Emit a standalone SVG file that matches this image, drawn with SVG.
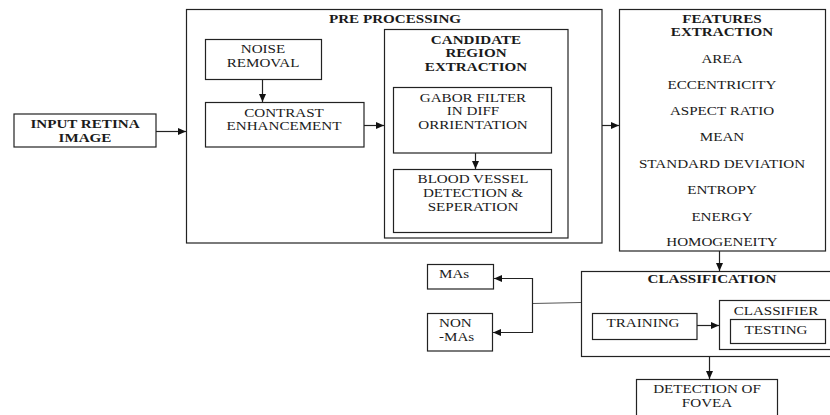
<svg xmlns="http://www.w3.org/2000/svg" width="830" height="415" viewBox="0 0 830 415">
<defs>
<style>
.box{fill:none;stroke:#222;stroke-width:1.2}
text{font-family:"Liberation Serif","DejaVu Serif",serif}
.t{font-size:12px;fill:#1a1a1a;text-anchor:middle}
.b{font-weight:bold}
.l{text-anchor:start}
.c{fill:none;stroke:#222;stroke-width:1.2}
.c2{fill:none;stroke:#555;stroke-width:1.2}
</style>
<marker id="ah" markerUnits="userSpaceOnUse" markerWidth="8" markerHeight="7" refX="8" refY="3.5" orient="auto">
<path d="M0,0 L8,3.5 L0,7 z" fill="#111"/>
</marker>
</defs>
<rect width="830" height="415" fill="#fff"/>

<g id="input">
<rect class="box" x="14" y="114" width="142" height="33"/>
<text class="t b" font-family="Liberation Serif, serif" transform="translate(85,128) scale(1.26,1)"><tspan x="0">INPUT RETINA</tspan><tspan x="0" y="14">IMAGE</tspan></text>
</g>

<g id="preprocessing">
<rect class="box" x="186.5" y="9.5" width="415.5" height="233.5"/>
<text class="t b" font-family="Liberation Serif, serif" transform="translate(395,23) scale(1.26,1)">PRE PROCESSING</text>
</g>

<g id="noise">
<rect class="box" x="205.5" y="39.5" width="116" height="40"/>
<text class="t" font-family="Liberation Serif, serif" transform="translate(263,53) scale(1.26,1)"><tspan x="0">NOISE</tspan><tspan x="0" y="14">REMOVAL</tspan></text>
</g>

<g id="contrast">
<rect class="box" x="205.5" y="102.5" width="158.5" height="44.5"/>
<text class="t" font-family="Liberation Serif, serif" transform="translate(284,117) scale(1.26,1)"><tspan x="0">CONTRAST</tspan><tspan x="0" y="13">ENHANCEMENT</tspan></text>
</g>

<g id="candidate">
<rect class="box" x="384.5" y="29.5" width="183.5" height="208.5"/>
<text class="t b" font-family="Liberation Serif, serif" transform="translate(476,44) scale(1.26,1)"><tspan x="0">CANDIDATE</tspan><tspan x="0" y="13.5">REGION</tspan><tspan x="0" y="27">EXTRACTION</tspan></text>
</g>

<g id="gabor">
<rect class="box" x="393.5" y="87.5" width="158" height="65.5"/>
<text class="t" font-family="Liberation Serif, serif" transform="translate(473,102) scale(1.26,1)"><tspan x="0">GABOR FILTER</tspan><tspan x="0" y="13.5">IN DIFF</tspan><tspan x="0" y="27">ORRIENTATION</tspan></text>
</g>

<g id="bloodvessel">
<rect class="box" x="393.5" y="169.5" width="158" height="63"/>
<text class="t" font-family="Liberation Serif, serif" transform="translate(473,183) scale(1.26,1)"><tspan x="0">BLOOD VESSEL</tspan><tspan x="0" y="14">DETECTION &amp;</tspan><tspan x="0" y="28">SEPERATION</tspan></text>
</g>

<g id="features" font-family="Liberation Serif, serif">
<rect class="box" x="619.5" y="9.5" width="206" height="241.5"/>
<text class="t b" transform="translate(722,23) scale(1.26,1)"><tspan x="0">FEATURES</tspan><tspan x="0" y="13">EXTRACTION</tspan></text>
<text class="t" transform="translate(722,63) scale(1.26,1)">AREA</text>
<text class="t" transform="translate(722,89) scale(1.26,1)">ECCENTRICITY</text>
<text class="t" transform="translate(722,115) scale(1.26,1)">ASPECT RATIO</text>
<text class="t" transform="translate(722,141) scale(1.26,1)">MEAN</text>
<text class="t" transform="translate(722,168) scale(1.26,1)">STANDARD DEVIATION</text>
<text class="t" transform="translate(722,194) scale(1.26,1)">ENTROPY</text>
<text class="t" transform="translate(722,221) scale(1.26,1)">ENERGY</text>
<text class="t" transform="translate(722,246) scale(1.26,1)">HOMOGENEITY</text>
</g>

<g id="classification">
<rect class="box" x="581.5" y="271.5" width="260" height="85"/>
<text class="t b" font-family="Liberation Serif, serif" transform="translate(712,283) scale(1.26,1)">CLASSIFICATION</text>
</g>

<g id="training">
<rect class="box" x="592.5" y="313.5" width="104.5" height="26"/>
<text class="t" font-family="Liberation Serif, serif" transform="translate(643,327) scale(1.26,1)">TRAINING</text>
</g>

<g id="classifier">
<rect class="box" x="719.5" y="300.5" width="120" height="49"/>
<text class="t" font-family="Liberation Serif, serif" transform="translate(776,315) scale(1.26,1)">CLASSIFIER</text>
</g>

<g id="testing">
<rect class="box" x="730.5" y="319.5" width="95" height="24"/>
<text class="t" font-family="Liberation Serif, serif" transform="translate(776,334) scale(1.26,1)">TESTING</text>
</g>

<g id="detection">
<rect class="box" x="636.5" y="379.5" width="141" height="50"/>
<text class="t" font-family="Liberation Serif, serif" transform="translate(707,393) scale(1.26,1)"><tspan x="0">DETECTION OF</tspan><tspan x="0" y="14">FOVEA</tspan></text>
</g>

<g id="mas">
<rect class="box" x="427.5" y="264.5" width="66" height="24.5"/>
<text class="t l" font-family="Liberation Serif, serif" transform="translate(439,278) scale(1.26,1)">MAs</text>
</g>

<g id="nonmas">
<rect class="box" x="427.5" y="313.5" width="65" height="37.5"/>
<text class="t l" font-family="Liberation Serif, serif" transform="translate(439,327) scale(1.26,1)"><tspan x="0">NON</tspan><tspan x="0" y="14">-MAs</tspan></text>
</g>

<g id="connectors">
<line class="c" x1="156" y1="131.5" x2="186" y2="131.5" marker-end="url(#ah)"/>
<line class="c" x1="262.5" y1="80" x2="262.5" y2="102" marker-end="url(#ah)"/>
<line class="c" x1="364" y1="125.5" x2="384" y2="125.5" marker-end="url(#ah)"/>
<line class="c" x1="475.5" y1="153" x2="475.5" y2="169" marker-end="url(#ah)"/>
<line class="c" x1="602" y1="125.5" x2="619" y2="125.5" marker-end="url(#ah)"/>
<line class="c" x1="719.5" y1="251" x2="719.5" y2="271" marker-end="url(#ah)"/>
<line class="c" x1="697" y1="325.5" x2="719" y2="325.5" marker-end="url(#ah)"/>
<line class="c" x1="709.5" y1="356" x2="709.5" y2="379" marker-end="url(#ah)"/>
<line class="c2" x1="581" y1="302.5" x2="532.5" y2="303.5"/>
<polyline class="c" points="532.5,303 532.5,278.5 494,278.5" marker-end="url(#ah)"/>
<polyline class="c" points="532.5,303 532.5,332.5 493,332.5" marker-end="url(#ah)"/>
</g>
</svg>
